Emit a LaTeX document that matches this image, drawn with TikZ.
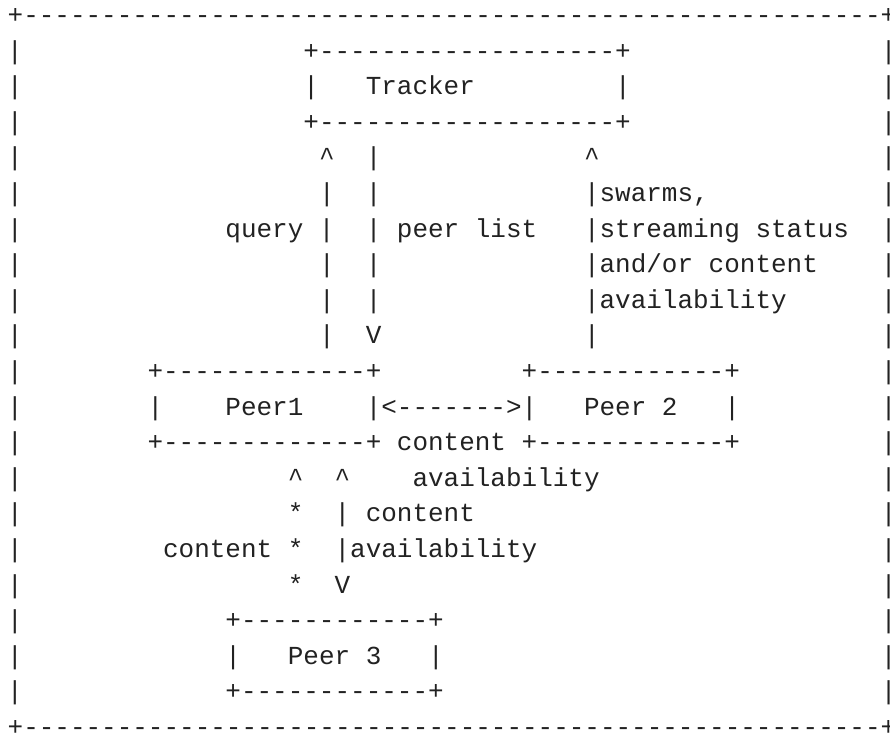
\documentclass[tikz,border=0pt]{standalone}
\usepackage{fontspec}
\setmonofont{Liberation Mono}

% character grid: 15.59pt per column, 35.6pt per line
\newcommand\colx[1]{7.205+15.59*#1}
\newcommand\rowy[1]{-23.4-35.6*#1}

\newcount\dashcount
\newcommand\dashes[1]{\dashcount=#1\relax\loop\ifnum\dashcount>0 -\advance\dashcount by -1\repeat}

\definecolor{ink}{HTML}{222222}
\tikzset{
  ascii/.style={anchor=base west, inner sep=0pt, outer sep=0pt, text=ink,
    font=\ttfamily\fontsize{25.98}{35.6}\selectfont}
}
% a run of characters starting at a given column and line
\newcommand\run[4]{\node[ascii] (#1) at ({\colx{#2}},{\rowy{#3}}) {#4};}
% a run on the page edge: the node is a point on the line's middle,
% the characters hang from it without taking up room
\newcommand\edgerun[4]{\node[ascii, anchor=west] (#1) at ({\colx{#2}},{-15-35.6*#3})
  {\makebox[0pt][l]{\raisebox{-8.4pt}[0pt][0pt]{#4}}};}

\begin{document}
\begin{tikzpicture}[x=1pt,y=1pt]
\fill[white] (0,0) rectangle (890,-734);
\useasboundingbox (0,0) rectangle (890,-734);

% outer frame
\edgerun{frametop}{0}{0}{+\dashes{55}+}
\edgerun{framebot}{0}{20}{+\dashes{55}+}
\foreach \r in {1,...,19} {
  \run{left\r}{0}{\r}{|}
  \edgerun{right\r}{56}{\r}{|}
}

% tracker box
\run{trktop}{19}{1}{+\dashes{19}+}
\run{trkl}{19}{2}{|}
\run{trk}{23}{2}{Tracker}
\run{trkr}{39}{2}{|}
\run{trkbot}{19}{3}{+\dashes{19}+}

% query / peer list / status arrows
\run{qhead}{20}{4}{\textasciicircum}
\run{pltop}{23}{4}{|}
\run{shead}{37}{4}{\textasciicircum}

\run{q5}{20}{5}{|}
\run{pl5}{23}{5}{|}
\run{s5}{37}{5}{|swarms,}

\run{qlbl}{14}{6}{query |}
\run{pllbl}{23}{6}{| peer list}
\run{s6}{37}{6}{|streaming status}

\run{q7}{20}{7}{|}
\run{pl7}{23}{7}{|}
\run{s7}{37}{7}{|and/or content}

\run{q8}{20}{8}{|}
\run{pl8}{23}{8}{|}
\run{s8}{37}{8}{|availability}

\run{q9}{20}{9}{|}
\run{pltip}{23}{9}{V}
\run{s9}{37}{9}{|}

% peer 1 and peer 2
\run{p1top}{9}{10}{+\dashes{13}+}
\run{p2top}{33}{10}{+\dashes{12}+}
\run{p1l}{9}{11}{|}
\run{p1}{14}{11}{Peer1}
\run{link}{23}{11}{|<\dashes{7}>|}
\run{p2}{37}{11}{Peer 2}
\run{p2r}{46}{11}{|}
\run{pbot}{9}{12}{+\dashes{13}+ content +\dashes{12}+}

% peer 1 -- peer 3
\run{starhead}{18}{13}{\textasciicircum}
\run{avhead}{21}{13}{\textasciicircum}
\run{avlbl}{26}{13}{availability}
\run{star1}{18}{14}{*}
\run{av1}{21}{14}{| content}
\run{star2}{10}{15}{content *}
\run{av2}{21}{15}{|availability}
\run{star3}{18}{16}{*}
\run{avtip}{21}{16}{V}

% peer 3 box
\run{p3top}{14}{17}{+\dashes{12}+}
\run{p3l}{14}{18}{|}
\run{p3}{18}{18}{Peer 3}
\run{p3r}{27}{18}{|}
\run{p3bot}{14}{19}{+\dashes{12}+}
\end{tikzpicture}
\end{document}
